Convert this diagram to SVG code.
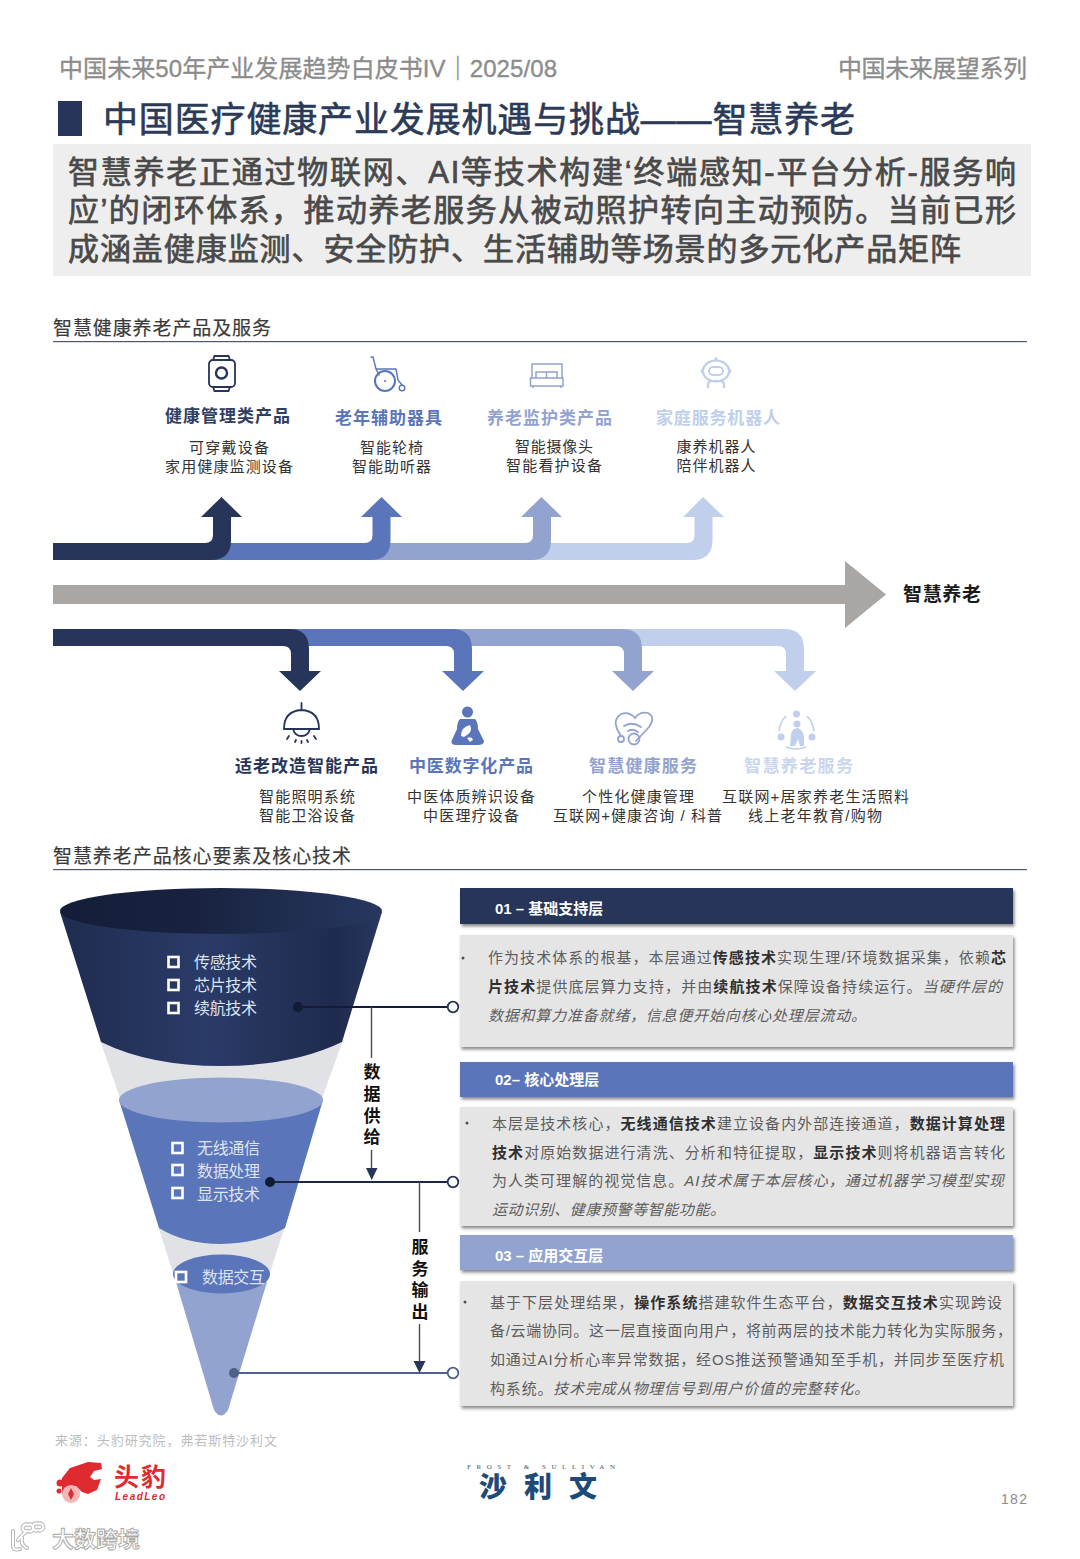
<svg xmlns="http://www.w3.org/2000/svg" width="1080" height="1559" viewBox="0 0 1080 1559">
<style>
text{font-family:"Liberation Sans","Noto Sans CJK SC",sans-serif;}
.hd{font-size:24px;fill:#8c8c8c;stroke:#8c8c8c;stroke-width:.35px}
.title{font-size:35px;fill:#2b3a57;stroke:#2b3a57;stroke-width:.6px}
.sub{font-size:31px;fill:#4a4a4a;stroke:#4a4a4a;stroke-width:.7px}
.sec{font-size:19px;fill:#3a3a3a;stroke:#3a3a3a;stroke-width:.2px}
.lab{font-size:17px;font-weight:700}
.item{font-size:15px;fill:#333}
.c{text-anchor:middle}
.side{font-size:17px;font-weight:700;fill:#111;text-anchor:middle}
.tech{font-size:16px;fill:#dfe3ee}
.box{fill:none;stroke:#fff;stroke-width:2.6}
.hn{font-size:15px;font-weight:700;fill:#fff}
.bd{font-size:15px;fill:#5d5d5d}
.bd .b{font-weight:700;fill:#303030}
.bd .i{font-style:italic}
.bl{fill:#505050}
.d1{fill:#263559}.d2{fill:#5a75ba}.d3{fill:#93a3cf}.d4{fill:#c0cfeb}
.s1{fill:none;stroke:#263559}.s2{fill:none;stroke:#5a75ba}.s3{fill:none;stroke:#93a3cf}.s4{fill:none;stroke:#c0cfeb}
.ln{fill:none;stroke-width:2}
.vl{fill:none;stroke:#444c5e;stroke-width:1.4}
</style>
<defs>
<filter id="sh" x="-3%" y="-10%" width="106%" height="125%"><feDropShadow dx="1.5" dy="2.5" stdDeviation="1.5" flood-color="#666" flood-opacity=".75"/></filter>
<linearGradient id="gTop" x1="0" x2="1" y1="0" y2="0"><stop offset="0" stop-color="#141d38"/><stop offset=".4" stop-color="#18223f"/><stop offset="1" stop-color="#27375f"/></linearGradient>
<linearGradient id="gBody" x1="0" x2="1" y1="0" y2="0"><stop offset="0" stop-color="#1f2c50"/><stop offset=".45" stop-color="#2b3b68"/><stop offset=".85" stop-color="#1f2b4e"/><stop offset="1" stop-color="#27375e"/></linearGradient>
</defs>
<rect width="1080" height="1559" fill="#fff"/>

<g id="header">
<text class="hd" x="59" y="77" textLength="498" lengthAdjust="spacing">中国未来50年产业发展趋势白皮书IV｜2025/08</text>
<text class="hd" x="838" y="77" textLength="189" lengthAdjust="spacing">中国未来展望系列</text>
<rect x="58" y="101" width="24" height="35" class="d1"/>
<text class="title" x="103" y="132" textLength="752" lengthAdjust="spacing">中国医疗健康产业发展机遇与挑战——智慧养老</text>
<rect x="53" y="144" width="978" height="132" fill="#eeeeee"/>
<text class="sub" x="68" y="183" textLength="948" lengthAdjust="spacing">智慧养老正通过物联网、AI等技术构建‘终端感知-平台分析-服务响</text>
<text class="sub" x="68" y="221" textLength="948" lengthAdjust="spacing">应’的闭环体系，推动养老服务从被动照护转向主动预防。当前已形</text>
<text class="sub" x="68" y="260" textLength="893" lengthAdjust="spacing">成涵盖健康监测、安全防护、生活辅助等场景的多元化产品矩阵</text>
</g>

<g id="section-products">
<text class="sec" x="53" y="335" textLength="218" lengthAdjust="spacing">智慧健康养老产品及服务</text>
<rect x="53" y="341" width="974" height="1.200" fill="#4a5578"/>
</g>

<g id="node-top-1">
<path class="s1" stroke-width="1.800" d="M213 360L214.500 356H228.500L230 360M213 387L214.500 391H228.500L230 387"/>
<rect x="209" y="360" width="26" height="27" rx="4" class="s1" stroke-width="1.800"/>
<circle cx="221.500" cy="373" r="5.500" class="s1" stroke-width="2.400"/>
<text class="lab c" x="227.500" y="422" fill="#2f3e63" textLength="125" lengthAdjust="spacing">健康管理类产品</text>
<text class="item c" x="229" y="453" textLength="80" lengthAdjust="spacing">可穿戴设备</text>
<text class="item c" x="229" y="472" textLength="128" lengthAdjust="spacing">家用健康监测设备</text>
</g>
<g id="node-top-2">
<path class="s2" stroke-width="1.400" stroke-linecap="round" d="M371 357H373L376 369H396M376 369L379 375M396 369L398 380L402 385"/>
<circle class="s2" stroke-width="2" cx="385" cy="381" r="10"/>
<circle class="s2" stroke-width="1.400" cx="402" cy="388" r="2.800"/>
<circle cx="385" cy="381" r="1" class="d2"/>
<text class="lab c" x="388.500" y="424" fill="#5a75ba" textLength="107" lengthAdjust="spacing">老年辅助器具</text>
<text class="item c" x="391.500" y="453" textLength="63" lengthAdjust="spacing">智能轮椅</text>
<text class="item c" x="391.500" y="472" textLength="79" lengthAdjust="spacing">智能助听器</text>
</g>
<g id="node-top-3">
<path class="s3" stroke-width="1.500" d="M532 378V364H562V378M530.500 378H563V386H530.500ZM533 388V386M561 388V386M536 378V372H546.500V378M546.500 378V372H557V378"/>
<text class="lab c" x="549.500" y="424" fill="#93a3cf" textLength="125" lengthAdjust="spacing">养老监护类产品</text>
<text class="item c" x="554" y="452" textLength="78" lengthAdjust="spacing">智能摄像头</text>
<text class="item c" x="554" y="471" textLength="96" lengthAdjust="spacing">智能看护设备</text>
</g>
<g id="node-top-4">
<ellipse class="s4" stroke-width="2.200" cx="716" cy="371" rx="13" ry="10.500"/>
<rect class="s4" stroke-width="2" x="709" y="367" width="14" height="8" rx="4"/>
<circle class="d4" cx="716" cy="359" r="1.800"/>
<path class="d4" d="M700.500 371L703 367V375ZM731.500 371L729 367V375Z"/>
<path class="s4" stroke-width="2.200" d="M708 388V385Q708 381 712 381H720Q724 381 724 385V388"/>
<text class="lab c" x="718" y="424" fill="#c0cfeb" textLength="124" lengthAdjust="spacing">家庭服务机器人</text>
<text class="item c" x="716" y="452" textLength="79" lengthAdjust="spacing">康养机器人</text>
<text class="item c" x="716" y="471" textLength="79" lengthAdjust="spacing">陪伴机器人</text>
</g>

<g id="node-goal">
<text x="903" y="601" font-size="19" font-weight="700" fill="#1a1a1a" textLength="78" lengthAdjust="spacing">智慧养老</text>
</g>

<g id="node-bottom-1">
<path class="s1" stroke-width="1.800" stroke-linecap="round" d="M301.500 703V710M284 729Q284 711 301.500 710Q319 711 319 729ZM293 729Q295 736 301.500 736Q308 736 310 729M289 736L287 739M296 740L295 742M307 740L308 742M314 736L316 739M301.500 741V743"/>
<text class="lab c" x="306.500" y="772" fill="#263559" textLength="143" lengthAdjust="spacing">适老改造智能产品</text>
<text class="item c" x="307" y="802" textLength="96" lengthAdjust="spacing">智能照明系统</text>
<text class="item c" x="307" y="821" textLength="96" lengthAdjust="spacing">智能卫浴设备</text>
</g>
<g id="node-bottom-2">
<circle class="d2" cx="467.500" cy="712" r="5.500"/>
<path class="d2" d="M460 719H475Q478 722 478 729L484 741Q484 745 478 745H456Q451 745 451.500 741L457 729Q457 722 460 719Z"/>
<path fill="#fff" d="M461 736Q461 727 470 725Q473 731 467 735L464 737ZM467 738Q472 736 473 740L470 742Z"/>
<text class="lab c" x="471" y="772" fill="#5a75ba" textLength="124" lengthAdjust="spacing">中医数字化产品</text>
<text class="item c" x="471" y="802" textLength="128" lengthAdjust="spacing">中医体质辨识设备</text>
<text class="item c" x="471" y="821" textLength="96" lengthAdjust="spacing">中医理疗设备</text>
</g>
<g id="node-bottom-3">
<path class="s3" stroke-width="1.800" stroke-linecap="round" d="M636 741L649 727Q656 717 648 713Q640 711 635 718Q629 711 621 714Q613 719 617 729L621 736"/>
<circle class="s3" stroke-width="1.800" cx="621" cy="739" r="3"/>
<circle class="s3" stroke-width="1.800" cx="634" cy="739" r="5.500"/>
<path class="s3" stroke-width="1.800" stroke-linecap="round" d="M628 731Q633 728 638 732M624 726Q632 721 641 727"/>
<text class="lab c" x="643" y="772" fill="#93a3cf" textLength="108" lengthAdjust="spacing">智慧健康服务</text>
<text class="item c" x="638" y="802" textLength="112" lengthAdjust="spacing">个性化健康管理</text>
<text class="item c" x="637.500" y="821" textLength="169" lengthAdjust="spacing">互联网+健康咨询 / 科普</text>
</g>
<g id="node-bottom-4">
<circle class="d4" cx="796.500" cy="714" r="3.500"/>
<circle class="d4" cx="781" cy="737" r="3.500"/>
<circle class="d4" cx="812" cy="737" r="3.500"/>
<path class="s4" stroke-width="1.600" d="M786 716Q780 722 779 731M807 716Q813 722 814 731M786 747Q796 751 806 747"/>
<circle class="d4" cx="797" cy="724" r="3.500"/>
<path class="d4" d="M790 746L791 734Q792 728 798 728Q803 730 804 737V746H800L798 739L795 746Z"/>
<text class="lab c" x="798.500" y="772" fill="#c9d6ee" textLength="109" lengthAdjust="spacing">智慧养老服务</text>
<text class="item c" x="815.500" y="802" textLength="187" lengthAdjust="spacing">互联网+居家养老生活照料</text>
<text class="item c" x="815" y="821" textLength="134" lengthAdjust="spacing">线上老年教育/购物</text>
</g>

<g id="section-core">
<text class="sec" x="53" y="863" textLength="298" lengthAdjust="spacing">智慧养老产品核心要素及核心技术</text>
<rect x="53" y="869" width="974" height="1.200" fill="#4a5578"/>
</g>

<g id="funnel">
<path fill="#e0e2e6" d="M100 1040L122 1104H320L343 1040ZM158 1226L176 1282H267L285 1226Z"/>
<path fill="url(#gBody)" d="M60 912L101 1042Q150 1066 221 1066Q292 1066 342 1042L382 912Z"/>
<ellipse cx="221" cy="911" rx="161" ry="23" fill="url(#gTop)"/>
<path class="d2" d="M119 1100L159 1228Q185 1244 221 1244Q258 1244 285 1228L323 1100Z"/>
<ellipse cx="221" cy="1100" rx="102" ry="22.500" class="d3"/>
<path class="d3" d="M176 1282L214 1410Q221 1421 228 1410L267 1282Z"/>
<ellipse cx="221.500" cy="1274" rx="48.500" ry="19.500" class="d2"/>
</g>

<g id="connectors">
<path class="d4" d="M520 543H686.500Q694.500 543 694.500 535V517H683L703 497L724 517H712.500V540Q712.500 560 692.500 560H520Z"/>
<path class="d3" d="M360 543H525Q533 543 533 535V517H521L541.500 497L562 517H551V540Q551 560 531 560H360Z"/>
<path class="d2" d="M200 543H364.500Q372.500 543 372.500 535V517H361L381.500 497L402 517H390.500V540Q390.500 560 370.500 560H200Z"/>
<path class="d1" d="M53 543H205Q213 543 213 535V517H201L221.500 497L242 517H231V540Q231 560 211 560H53Z"/>
<path fill="#aaa6a3" d="M53 585H845V561L886 594.500L845 628V604H53Z"/>
<path class="d4" d="M610 629H784Q804 629 804 649V671H816L795 691L774 671H786V654Q786 646 778 646H610Z"/>
<path class="d3" d="M440 629H622Q642 629 642 649V671H654L633 691L612 671H624V654Q624 646 616 646H440Z"/>
<path class="d2" d="M280 629H452Q472 629 472 649V671H484L463 691L442 671H454V654Q454 646 446 646H280Z"/>
<path class="d1" d="M53 629H289Q309 629 309 649V671H321L300 691L279 671H291V654Q291 646 283 646H53Z"/>

<path class="ln" stroke="#131c38" d="M298 1007H447"/>
<circle cx="298" cy="1007" r="5" fill="#121b35"/>
<circle cx="453" cy="1007" r="5.300" fill="#fff" stroke="#263559" stroke-width="1.800"/>
<path class="ln" stroke="#1b2747" d="M270 1182H447"/>
<circle cx="270" cy="1182" r="5" fill="#121b35"/>
<circle cx="453" cy="1182" r="5.300" fill="#fff" stroke="#263559" stroke-width="1.800"/>
<path class="ln" stroke="#4f6189" d="M234 1373H447"/>
<circle cx="234" cy="1373" r="5" fill="#4f6189"/>
<circle cx="453" cy="1373" r="5.300" fill="#fff" stroke="#4f6189" stroke-width="1.800"/>
<path class="vl" d="M371.500 1007V1058M371.500 1150V1170M419.500 1182V1232M419.500 1324V1362"/>
<path class="d1" d="M366 1168H377.500L371.700 1180Z"/>
<path class="d1" d="M413.500 1361H425.500L419.500 1373Z"/>
</g>
<text class="side" x="372" y="1078">数</text>
<text class="side" x="372" y="1100">据</text>
<text class="side" x="372" y="1122">供</text>
<text class="side" x="372" y="1143">给</text>
<text class="side" x="420" y="1253">服</text>
<text class="side" x="420" y="1275">务</text>
<text class="side" x="420" y="1296">输</text>
<text class="side" x="420" y="1318">出</text>

<g id="node-tech-1">
<rect class="box" x="168.500" y="957" width="10" height="10"/>
<rect class="box" x="168.500" y="980" width="10" height="10"/>
<rect class="box" x="168.500" y="1003" width="10" height="10"/>
<text class="tech" x="194" y="968" textLength="63" lengthAdjust="spacing">传感技术</text>
<text class="tech" x="194" y="991" textLength="63" lengthAdjust="spacing">芯片技术</text>
<text class="tech" x="194" y="1014" textLength="63" lengthAdjust="spacing">续航技术</text>
</g>
<g id="node-tech-2">
<rect class="box" x="172.500" y="1143" width="10" height="10"/>
<rect class="box" x="172.500" y="1165" width="10" height="10"/>
<rect class="box" x="172.500" y="1188" width="10" height="10"/>
<text class="tech" x="197" y="1154" textLength="63" lengthAdjust="spacing">无线通信</text>
<text class="tech" x="197" y="1177" textLength="63" lengthAdjust="spacing">数据处理</text>
<text class="tech" x="197" y="1200" textLength="63" lengthAdjust="spacing">显示技术</text>
</g>
<g id="node-tech-3">
<rect class="box" x="176" y="1272" width="10" height="10"/>
<text class="tech" x="202" y="1283" textLength="63" lengthAdjust="spacing">数据交互</text>
</g>

<g id="node-layer-1">
<rect x="460" y="888" width="553" height="36" class="d1" filter="url(#sh)"/>
<text class="hn" x="495" y="914">01 – 基础支持层</text>
<rect x="460" y="935" width="553" height="112" fill="#e6e5e5" filter="url(#sh)"/>
<circle class="bl" cx="463" cy="958" r="1.500"/>
<text class="bd" x="488" y="963" textLength="518" lengthAdjust="spacing">作为技术体系的根基，本层通过<tspan class="b">传感技术</tspan>实现生理/环境数据采集，依赖<tspan class="b">芯</tspan></text>
<text class="bd" x="488" y="992" textLength="514" lengthAdjust="spacing"><tspan class="b">片技术</tspan>提供底层算力支持，并由<tspan class="b">续航技术</tspan>保障设备持续运行。<tspan class="i">当硬件层的</tspan></text>
<text class="bd" x="488" y="1021" textLength="378" lengthAdjust="spacing"><tspan class="i">数据和算力准备就绪，信息便开始向核心处理层流动。</tspan></text>
</g>
<g id="node-layer-2">
<rect x="460" y="1062" width="553" height="35" class="d2" filter="url(#sh)"/>
<text class="hn" x="495" y="1085">02– 核心处理层</text>
<rect x="460" y="1107" width="553" height="119" fill="#e6e5e5" filter="url(#sh)"/>
<circle class="bl" cx="467" cy="1123" r="1.500"/>
<text class="bd" x="492" y="1129" textLength="513" lengthAdjust="spacing">本层是技术核心，<tspan class="b">无线通信技术</tspan>建立设备内外部连接通道，<tspan class="b">数据计算处理</tspan></text>
<text class="bd" x="492" y="1158" textLength="513" lengthAdjust="spacing"><tspan class="b">技术</tspan>对原始数据进行清洗、分析和特征提取，<tspan class="b">显示技术</tspan>则将机器语言转化</text>
<text class="bd" x="492" y="1186" textLength="512" lengthAdjust="spacing">为人类可理解的视觉信息。<tspan class="i">AI技术属于本层核心，通过机器学习模型实现</tspan></text>
<text class="bd" x="492" y="1215" textLength="233" lengthAdjust="spacing"><tspan class="i">运动识别、健康预警等智能功能。</tspan></text>
</g>
<g id="node-layer-3">
<rect x="460" y="1235" width="553" height="35" class="d3" filter="url(#sh)"/>
<text class="hn" x="495" y="1261">03 – 应用交互层</text>
<rect x="460" y="1281" width="553" height="125" fill="#e6e5e5" filter="url(#sh)"/>
<circle class="bl" cx="465" cy="1302" r="1.500"/>
<text class="bd" x="490" y="1308" textLength="512" lengthAdjust="spacing">基于下层处理结果，<tspan class="b">操作系统</tspan>搭建软件生态平台，<tspan class="b">数据交互技术</tspan>实现跨设</text>
<text class="bd" x="490" y="1336" textLength="522" lengthAdjust="spacing">备/云端协同。这一层直接面向用户，将前两层的技术能力转化为实际服务，</text>
<text class="bd" x="490" y="1365" textLength="514" lengthAdjust="spacing">如通过AI分析心率异常数据，经OS推送预警通知至手机，并同步至医疗机</text>
<text class="bd" x="490" y="1394" textLength="379" lengthAdjust="spacing">构系统。<tspan class="i">技术完成从物理信号到用户价值的完整转化。</tspan></text>
</g>

<g id="footer">
<text x="55" y="1445" font-size="13" fill="#bdbdbd" textLength="222" lengthAdjust="spacing">来源：头豹研究院，弗若斯特沙利文</text>
<path fill="#df2a2f" d="M62 1478L70 1468L82 1464L88 1462L101 1463L102 1469L94 1471L90 1477L94 1480L101 1479L97 1490L88 1494L82 1492L76 1486L66 1488L62 1494Z"/>
<circle cx="71" cy="1494" r="9" fill="#f3b7b9"/>
<path fill="#df2a2f" d="M71 1488L74 1494L71 1500L68 1494Z"/>
<circle cx="60" cy="1483" r="3.500" fill="#df2a2f"/>
<circle cx="59" cy="1491" r="2.500" fill="#df2a2f"/>
<text x="114" y="1486" font-size="25" font-weight="700" fill="#df2a2f" textLength="52" lengthAdjust="spacing">头豹</text>
<text x="115" y="1500" font-size="10" font-weight="700" font-style="italic" fill="#df2a2f" textLength="50" lengthAdjust="spacing">LeadLeo</text>
<text x="467" y="1469" font-size="7" fill="#44566f" style="font-family:'Liberation Serif',serif" textLength="148" lengthAdjust="spacing">FROST &amp; SULLIVAN</text>
<text x="479" y="1497" font-size="28" font-weight="900" fill="#1d4a78" textLength="118" lengthAdjust="spacing">沙利文</text>
<text x="1001" y="1504" font-size="14" fill="#8c8c8c" textLength="26" lengthAdjust="spacing">182</text>
</g>
<g id="watermark">
<path fill="none" stroke="#b5b5b5" stroke-width="4" stroke-linecap="round" d="M13 1531V1546Q13 1551 20 1549M18 1540L26 1531M27 1548Q20 1544 22 1538M28 1531A3.500 3.500 0 1 0 28 1525A3.500 3.500 0 1 0 28 1531ZM38 1530A3.500 3.500 0 1 0 38 1524A3.500 3.500 0 1 0 38 1530Z"/>
<path fill="none" stroke="#fff" stroke-width="2" stroke-linecap="round" d="M13 1531V1546Q13 1551 20 1549M18 1540L26 1531M27 1548Q20 1544 22 1538M28 1531A3.500 3.500 0 1 0 28 1525A3.500 3.500 0 1 0 28 1531ZM38 1530A3.500 3.500 0 1 0 38 1524A3.500 3.500 0 1 0 38 1530Z"/>
<text x="52" y="1547" font-size="22" font-weight="700" fill="#fff" stroke="#a8a8a8" stroke-width=".9" textLength="88" lengthAdjust="spacing">大数跨境</text>
</g>
</svg>
